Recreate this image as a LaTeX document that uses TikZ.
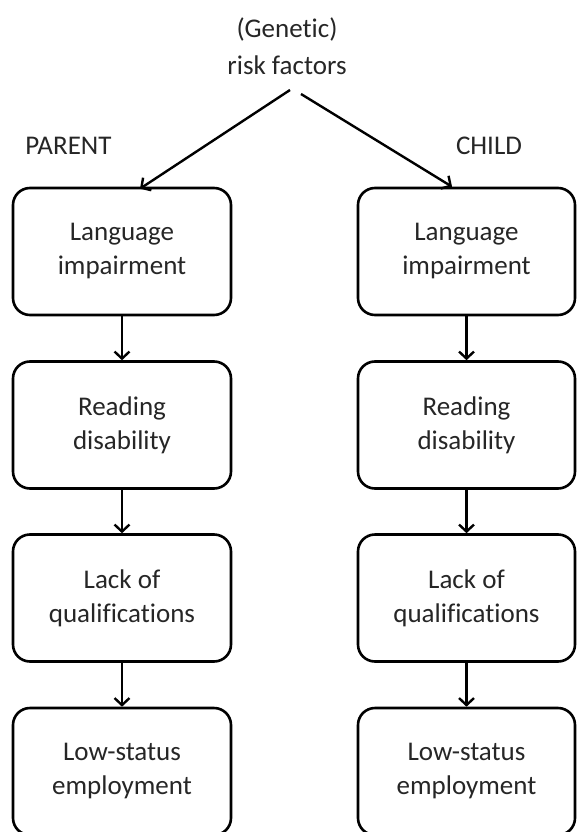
\documentclass[tikz,border=0pt]{standalone}
\usepackage{fontspec}
\setmainfont{Carlito}[Ligatures=CommonOff]
\usetikzlibrary{arrows.meta}
\begin{document}
\begin{tikzpicture}[x=1pt,y=-1pt,
  every node/.style={font=\fontsize{27}{34}\selectfont, text=black!85},
  stagebox/.style={draw=black, line width=2.6pt, rounded corners=17pt,
    minimum width=218pt, minimum height=127pt, inner sep=0pt, align=center},
  flow/.style={draw=black, line width=2.4pt, -{Straight Barb[length=7pt,width=15pt,line width=2.4pt]}}
]
\useasboundingbox (0,0) rectangle (576,832);
\node[align=center, font=\fontsize{27}{37}\selectfont] (risk) at (287,46) {(Genetic)\\risk factors};
\node[anchor=base] (parent) at (68.5,154) {PARENT};
\node[anchor=base] (child) at (489,154) {CHILD};

\node[stagebox] (L1) at (122,251.5) {Language\\impairment};
\node[stagebox] (L2) at (122,425) {Reading\\disability};
\node[stagebox] (L3) at (122,598) {Lack of\\qualifications};
\node[stagebox] (L4) at (122,771.5) {Low-status\\employment};

\node[stagebox, minimum width=217pt] (R1) at (466.5,251.5) {Language\\impairment};
\node[stagebox, minimum width=217pt] (R2) at (466.5,425) {Reading\\disability};
\node[stagebox, minimum width=217pt] (R3) at (466.5,598) {Lack of\\qualifications};
\node[stagebox, minimum width=217pt] (R4) at (466.5,771.5) {Low-status\\employment};

\coordinate (ls) at (290,90);
\coordinate (rs) at (301,94);
\draw[flow] (ls) -- ([xshift=18pt,yshift=-2pt]L1.north);
\draw[flow] (rs) -- ([xshift=-14.5pt]R1.north);

\draw[flow] (L1) -- (L2);
\draw[flow] (L2) -- (L3);
\draw[flow] (L3) -- (L4);
\draw[flow] (R1) -- (R2);
\draw[flow] (R2) -- (R3);
\draw[flow] (R3) -- (R4);
\end{tikzpicture}
\end{document}
